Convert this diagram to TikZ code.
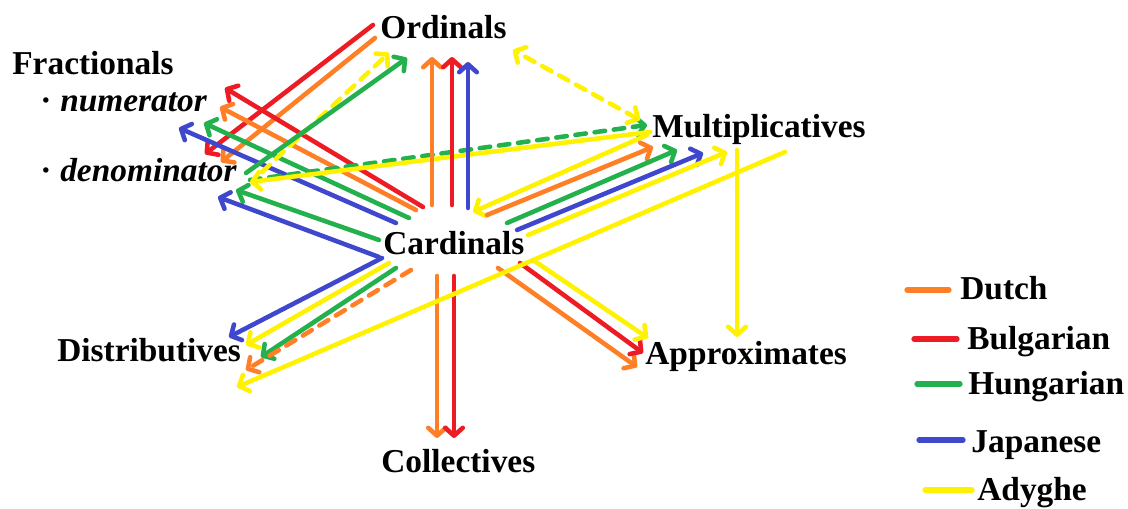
\documentclass[tikz,border=0pt]{standalone}
\usepackage{fontspec}
\setmainfont{Liberation Serif}
\usetikzlibrary{arrows.meta}
\definecolor{cor}{RGB}{255,127,39}
\definecolor{cre}{RGB}{237,28,36}
\definecolor{cgr}{RGB}{34,177,76}
\definecolor{cbl}{RGB}{63,72,204}
\definecolor{cye}{RGB}{255,242,0}
\begin{document}
\begin{tikzpicture}[x=0.02cm,y=-0.02cm,
  lbl/.style={font=\bfseries\fontsize{19}{22}\selectfont, inner sep=0pt, anchor=base west},
  sub/.style={font=\bfseries\itshape\fontsize{19}{22}\selectfont, inner sep=0pt, anchor=base west},
  con/.style={line width=2.6pt, line cap=round, -{Straight Barb[length=4.5pt,width=10pt,round]}},
  both/.style={line width=2.6pt, line cap=round, {Straight Barb[length=4.5pt,width=10pt,round]}-{Straight Barb[length=4.5pt,width=10pt,round]}},
  dsh/.style={dash pattern=on 6pt off 5pt},
  condash/.style={con,dsh},
  bothdash/.style={both,dsh},
  key/.style={line width=3pt, line cap=round}]
\useasboundingbox (0,0) rectangle (1128,509);
% labels
\node[lbl] (ord) at (380,39) {Ordinals};
\node[lbl] (frac) at (12,75) {Fractionals};
\node[sub] (num) at (40,112) {\upshape·\hspace{5pt}\itshape numerator};
\node[sub] (den) at (40,182) {\upshape·\hspace{5pt}\itshape denominator};
\node[lbl] (mult) at (652,138) {Multiplicatives};
\node[lbl] (card) at (383,255) {Cardinals};
\node[lbl] (dist) at (57,362) {Distributives};
\node[lbl] (appr) at (645,365) {Approximates};
\node[lbl] (coll) at (381,472) {Collectives};
% connectors
\foreach \col/\sty/\ax/\ay/\bx/\by [count=\i] in {
  cre/con/373/25/205/154,
  cor/con/375/38/221/162,
  cre/con/423/207/225/88,
  cor/con/416/210/220/107,
  cgr/con/409/218/204/123,
  cbl/con/396/223/179/128,
  cgr/con/379/240/236/190,
  cbl/con/379/257/218/197,
  cye/condash/262/172/389/53,
  cgr/con/246/173/407/58,
  cgr/condash/250/180/647/125,
  cye/con/650/132/250/182,
  cor/con/432/205/432/57,
  cre/con/452/205/452/57,
  cbl/con/468/208/468/62,
  cye/bothdash/640/120/513/50,
  cye/con/647/135/473/212,
  cor/con/487/215/653/147,
  cgr/con/507/223/677/150,
  cbl/con/517/230/703/153,
  cye/con/528/235/727/152,
  cye/con/737/150/737/337,
  cbl/con/382/258/229/337,
  cye/con/389/263/246/345,
  cgr/con/396/268/261/357,
  cor/condash/411/270/246/370,
  cor/con/437/276/437/438,
  cre/con/454/276/454/438,
  cor/con/498/268/637/367,
  cre/con/520/263/643/353,
  cye/con/533/260/648/338,
  cye/con/785/152/237/387}
{
  \coordinate (s\i) at (\ax,\ay);
  \coordinate (e\i) at (\bx,\by);
  \draw[\col,\sty] (s\i) -- (e\i);
}
% legend
\foreach \col/\ax/\bx/\y/\name/\tx/\ty [count=\i] in {
  cor/907/949/290/Dutch/960/300,
  cre/914/957/339/Bulgarian/967/350,
  cgr/917/960/384/Hungarian/968/395,
  cbl/919/963/440/Japanese/971/452,
  cye/925/972/490/Adyghe/977/500}
{
  \coordinate (ka\i) at (\ax,\y);
  \coordinate (kb\i) at (\bx,\y);
  \draw[key,\col] (ka\i) -- (kb\i);
  \node[lbl] (kt\i) at (\tx,\ty) {\name};
}
\end{tikzpicture}
\end{document}
